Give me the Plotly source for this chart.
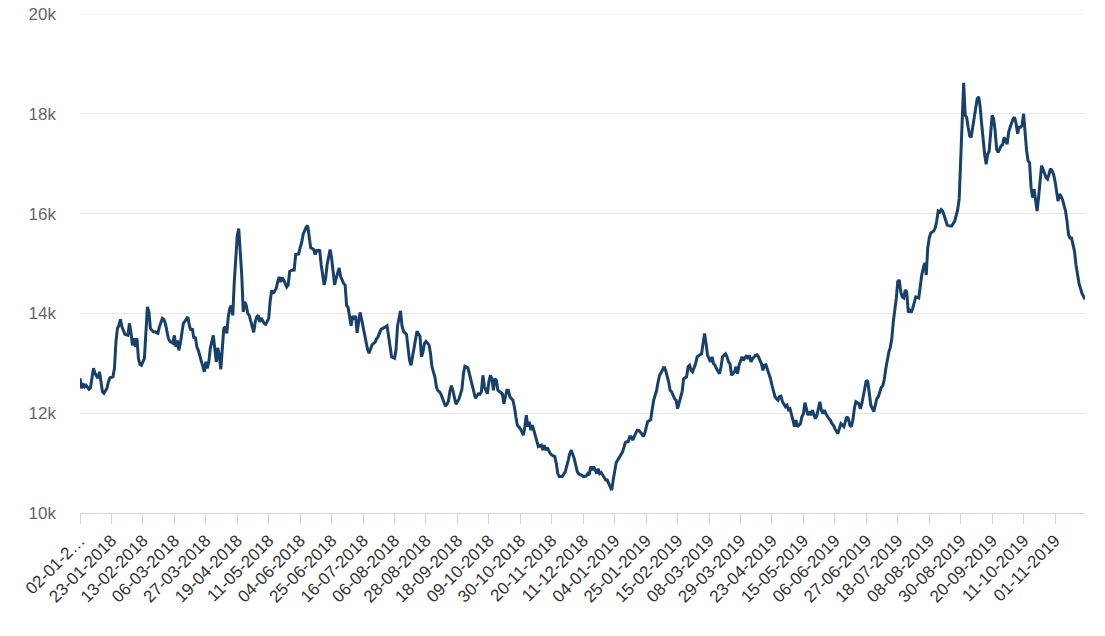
import plotly.graph_objects as go

# trading-day position (index into the daily series) and value
day_index = [
    0, 1, 2, 3, 4, 6, 7, 9, 10, 12, 13, 14, 15, 16, 18, 19, 20, 22, 23, 24,
    25, 26, 27, 28, 29, 30, 32, 33, 34, 35, 36, 37, 38, 39, 40, 41, 43, 44, 45, 46,
    47, 49, 50, 52, 53, 55, 56, 57, 58, 59, 60, 62, 63, 64, 65, 66, 67, 68, 69, 70,
    72, 73, 74, 75, 76, 77, 78, 79, 80, 82, 83, 84, 85, 86, 87, 89, 90, 91, 92, 93,
    94, 95, 96, 97, 98, 99, 100, 101, 102, 103, 104, 105, 106, 107, 108, 109, 110, 111, 112, 113,
    114, 115, 116, 117, 118, 119, 120, 121, 123, 124, 125, 126, 127, 128, 129, 131, 132, 133, 134, 135,
    136, 138, 139, 140, 142, 143, 144, 146, 147, 148, 149, 151, 152, 153, 154, 156, 157, 158, 159, 160,
    161, 163, 164, 165, 166, 167, 168, 169, 170, 171, 172, 173, 174, 176, 177, 178, 179, 180, 181, 182,
    183, 184, 185, 186, 187, 188, 189, 190, 191, 192, 193, 195, 196, 197, 198, 199, 200, 201, 204, 205,
    207, 208, 210, 211, 212, 213, 214, 215, 216, 218, 219, 220, 221, 222, 223, 224, 225, 227, 228, 229,
    230, 231, 233, 234, 235, 237, 238, 239, 240, 241, 243, 244, 245, 246, 247, 248, 249, 250, 251, 253,
    254, 255, 256, 257, 259, 260, 261, 262, 263, 264, 266, 267, 268, 269, 270, 272, 273, 274, 275, 276,
    277, 278, 279, 280, 282, 283, 284, 285, 286, 287, 289, 290, 291, 292, 294, 295, 296, 297, 298, 299,
    300, 301, 302, 303, 304, 305, 306, 308, 309, 310, 311, 312, 313, 314, 315, 317, 318, 319, 320, 321,
    322, 324, 325, 326, 327, 328, 330, 331, 332, 333, 335, 336, 338, 339, 340, 341, 342, 343, 345, 346,
    347, 348, 349, 351, 352, 353, 355, 356, 357, 358, 359, 361, 362, 363, 364, 365, 366, 367, 368, 369,
    371, 372, 373, 375, 376, 377, 378, 379, 381, 382, 383, 384, 385, 386, 387, 389, 390, 391, 392, 393,
    394, 395, 397, 398, 399, 402, 403, 405, 406, 407, 408, 409, 411, 412, 414, 415, 416, 417, 418, 419,
    421, 422, 423, 424, 425, 426, 427, 428, 429, 431, 432, 433, 434, 435, 437, 438, 439, 440, 441, 442,
    443, 445, 446, 447, 448, 449, 451, 452, 453, 454, 455, 456, 457, 458, 459, 461, 462, 463, 464, 465,
    466, 467, 468, 469, 471, 472, 473, 474, 475, 476, 477, 478, 479, 481, 482, 483, 484, 485, 486, 487,
    488, 489, 491, 492, 493, 494, 495, 496, 497, 498, 500, 501, 502, 503, 504, 505, 506, 507, 508, 510,
    511, 512, 513, 514, 515, 516, 517, 518, 520, 521, 522, 523, 524, 525, 526, 527, 528, 530, 531, 532,
    533, 534, 535, 536, 537, 538, 539, 540, 541, 542, 543, 544, 545, 546, 547, 548, 549, 550, 551, 552,
    553, 554, 555, 556, 557, 558, 560, 561, 562, 563, 564, 565, 566, 567, 568, 570, 571, 572, 573, 574,
    575, 576, 577, 578, 579, 581, 582, 584, 585, 586, 587, 588, 589, 590, 591, 592, 593, 594, 595, 596,
    597, 598, 599, 600, 601, 602, 603, 604, 605, 606, 607, 609, 610, 611, 612, 613, 614, 615, 616, 617,
    619, 620, 621, 622, 623, 624, 625, 626, 627, 628, 629, 630, 631, 632, 633, 634, 635, 636, 637, 638,
    639, 640, 641, 642, 643, 645, 646, 647, 648, 649, 650, 651, 652, 653, 654, 655, 656, 657, 658, 659,
    660, 661, 662, 663, 664, 665, 666, 667, 669, 671,
]

price = [
    12700, 12500, 12600, 12530, 12560, 12480, 12510, 12900, 12800, 12700, 12830, 12660, 12430, 12400, 12500, 12630, 12710, 12730, 12900, 13430,
    13700, 13760, 13880, 13730, 13630, 13580, 13560, 13800, 13630, 13360, 13500, 13330, 13500, 13100, 12980, 12960, 13100, 13560, 14130, 14030,
    13700, 13630, 13630, 13600, 13730, 13900, 13880, 13800, 13660, 13500, 13440, 13400, 13560, 13330, 13460, 13260, 13400, 13660, 13800, 13840,
    13930, 13760, 13660, 13700, 13500, 13530, 13330, 13260, 13160, 12960, 12830, 13030, 12900, 13030, 13300, 13560, 13260, 13030, 13310, 13160,
    12880, 13300, 13700, 13730, 13600, 13930, 14100, 14160, 13960, 14630, 15160, 15560, 15700, 15300, 14760, 14030, 14230, 14160, 14000, 13960,
    13830, 13700, 13620, 13830, 13930, 13960, 13830, 13910, 13800, 13780, 13830, 13900, 14260, 14460, 14400, 14500, 14630, 14730, 14630, 14720,
    14670, 14530, 14570, 14840, 14870, 14870, 15180, 15190, 15320, 15420, 15590, 15730, 15760, 15520, 15320, 15280, 15180, 15260, 15250, 15280,
    14980, 14570, 14700, 14980, 15180, 15280, 15110, 14840, 14570, 14700, 14800, 14910, 14740, 14600, 14570, 14160, 14120, 13880, 13750, 13950,
    13880, 13950, 13610, 13820, 14020, 13880, 13710, 13540, 13370, 13280, 13200, 13370, 13400, 13420, 13490, 13530, 13610, 13680, 13730, 13750,
    13340, 13130, 13100, 13270, 13750, 13950, 14050, 13750, 13640, 13580, 13340, 13060, 12960, 13130, 13340, 13510, 13640, 13540, 13130, 13230,
    13400, 13440, 13370, 13200, 12930, 12720, 12520, 12450, 12430, 12380, 12240, 12140, 12180, 12240, 12450, 12550, 12450, 12280, 12180, 12280,
    12410, 12480, 12790, 12940, 12910, 12790, 12650, 12520, 12410, 12300, 12390, 12380, 12430, 12760, 12530, 12390, 12630, 12760, 12690, 12460,
    12690, 12660, 12460, 12430, 12390, 12190, 12360, 12460, 12460, 12330, 12260, 12130, 11930, 11760, 11690, 11630, 11560, 11730, 11960, 11730,
    11830, 11660, 11760, 11660, 11560, 11460, 11330, 11360, 11260, 11360, 11260, 11310, 11230, 11190, 11160, 11130, 10990, 10790, 10730, 10730,
    10730, 10830, 10930, 11060, 11190, 11260, 11090, 10930, 10830, 10780, 10760, 10730, 10740, 10790, 10760, 10930, 10860, 10930, 10790, 10890,
    10790, 10810, 10760, 10660, 10660, 10590, 10460, 10660, 10860, 11010, 11060, 11160, 11210, 11290, 11410, 11430, 11430, 11530, 11530, 11460,
    11590, 11660, 11660, 11590, 11530, 11590, 11710, 11830, 11870, 12090, 12260, 12360, 12460, 12630, 12760, 12870, 12930, 12860, 12760, 12630,
    12460, 12430, 12290, 12260, 12090, 12430, 12690, 12730, 12930, 12960, 12860, 12830, 12990, 13130, 13170, 13190, 13400, 13600, 13400, 13160,
    13030, 13130, 12990, 12960, 12890, 12830, 12790, 12930, 13130, 13190, 13130, 13030, 12990, 12760, 12830, 12930, 12790, 12960, 13060, 13130,
    13060, 13160, 13090, 13160, 13030, 13090, 13160, 13170, 13130, 13060, 12990, 12860, 12960, 12970, 12890, 12690, 12560, 12460, 12330, 12290,
    12260, 12330, 12340, 12230, 12130, 12160, 12070, 12090, 11990, 11860, 11730, 11860, 11730, 11790, 11930, 11990, 12210, 12090, 11960, 12030,
    11960, 12060, 11890, 11960, 12130, 12230, 12060, 11990, 12060, 11990, 11890, 11860, 11790, 11760, 11690, 11630, 11590, 11690, 11790, 11730,
    11860, 11930, 11890, 11760, 11730, 11860, 12090, 12230, 12190, 12090, 12190, 12360, 12530, 12660, 12630, 12330, 12160, 12030, 12160, 12290,
    12330, 12430, 12520, 12550, 12680, 12890, 13090, 13220, 13320, 13490, 13830, 14030, 14300, 14640, 14670, 14430, 14330, 14310, 14470, 14430,
    14020, 14060, 14020, 14100, 14230, 14330, 14310, 14570, 14770, 14900, 15010, 14770, 15310, 15510, 15610, 15650, 15710, 15850, 16050, 16030,
    16080, 16050, 15950, 15850, 15770, 15750, 15750, 15850, 15950, 16080, 16300, 17100, 18000, 18620, 17970, 17930, 17730, 17560, 17530, 17730,
    17930, 18140, 18300, 18340, 18140, 17800, 17460, 17190, 16990, 17190, 17250, 17970, 17900, 17660, 17290, 17230, 17290, 17360, 17380, 17530,
    17390, 17630, 17730, 17830, 17900, 17930, 17800, 17600, 17730, 17730, 17770, 18000, 17530, 17260, 17060, 17020, 16520, 16320, 16490, 16250,
    16050, 16320, 16720, 16960, 16890, 16720, 16690, 16790, 16900, 16860, 16790, 16650, 16450, 16250, 16390, 16350, 16280, 16180, 16050, 15850,
    15580, 15510, 15510, 15380, 15240, 14970, 14770, 14600, 14400, 14280,
]

# x-axis labels every 21 trading days
tick_dates = [
    "02-01-2018", "23-01-2018", "13-02-2018", "06-03-2018", "27-03-2018", "19-04-2018",
    "11-05-2018", "04-06-2018", "25-06-2018", "16-07-2018", "06-08-2018", "28-08-2018",
    "18-09-2018", "09-10-2018", "30-10-2018", "20-11-2018", "11-12-2018", "04-01-2019",
    "25-01-2019", "15-02-2019", "08-03-2019", "29-03-2019", "23-04-2019", "15-05-2019",
    "06-06-2019", "27-06-2019", "18-07-2019", "08-08-2019", "30-08-2019", "20-09-2019",
    "11-10-2019", "01-11-2019",
]
tick_step = 21
last_index = 671

y_ticks = [10000, 12000, 14000, 16000, 18000, 20000]
y_labels = ["10k", "12k", "14k", "16k", "18k", "20k"]

tick_positions = [i * tick_step for i in range(len(tick_dates))]
tick_text = [tick_dates[0][:7] + "…"] + tick_dates[1:]

fig = go.Figure()
fig.add_trace(go.Scatter(
    x=day_index, y=price, mode="lines",
    line=dict(color="#17416b", width=3),
    hoverinfo="skip", showlegend=False,
))

# top gridline (at the edge of the plotting area)
fig.add_shape(type="line", xref="paper", yref="y", x0=0, x1=1,
              y0=y_ticks[-1], y1=y_ticks[-1],
              line=dict(color="#e6e6e6", width=1), layer="below")

font_family = "Liberation Sans, Arial, sans-serif"
fig.update_layout(
    width=1105, height=636,
    margin=dict(l=80, r=20, t=14, b=123, autoexpand=False),
    paper_bgcolor="white", plot_bgcolor="white",
    font=dict(family=font_family, size=17, color="#666666"),
    showlegend=False,
)
fig.update_xaxes(
    range=[0, last_index], automargin=False,
    tickmode="array", tickvals=tick_positions, ticktext=tick_text,
    tickangle=-45, tickfont=dict(size=17, color="#333333"),
    showgrid=False, zeroline=False,
    showline=True, linecolor="#ccd6eb", linewidth=1,
    ticks="outside", ticklen=10, tickcolor="#ccd6eb", tickwidth=1,
)
fig.update_yaxes(
    range=[10000, 20000], automargin=False,
    tickmode="array", tickvals=y_ticks, ticktext=y_labels,
    tickfont=dict(size=17, color="#666666"),
    showgrid=True, gridcolor="#e6e6e6", gridwidth=1,
    zeroline=False, showline=False, ticks="",
    ticklabelstandoff=23,
)

fig.write_html("out.html")
